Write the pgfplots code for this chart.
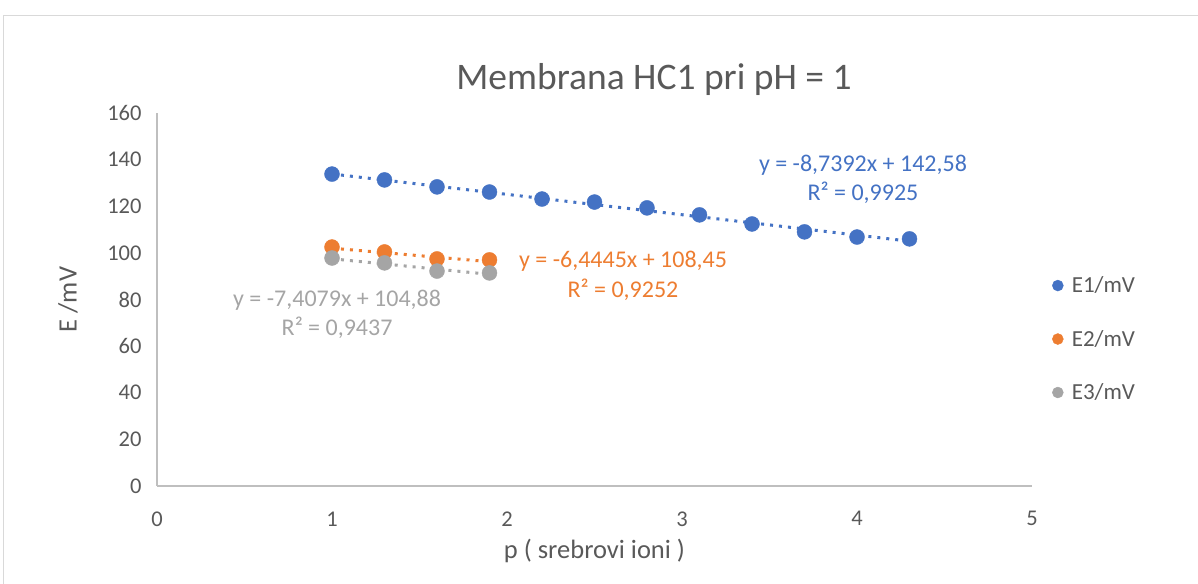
\documentclass[border=0pt]{standalone}
\usepackage{pgfplots}
\pgfplotsset{compat=1.18}
\usepackage{fontspec}
\setmainfont{Carlito}
\definecolor{cblue}{HTML}{4472C4}
\definecolor{corange}{HTML}{ED7D31}
\definecolor{cgray}{HTML}{A5A5A5}
\definecolor{ctext}{HTML}{595959}
\definecolor{caxis}{HTML}{BFBFBF}
\definecolor{cframe}{HTML}{D9D9D9}
\begin{document}
\begin{tikzpicture}[x=1pt,y=1pt]
\useasboundingbox (0pt,0pt) rectangle (1198pt,583pt);
\draw[cframe, line width=1.3pt] (3.5pt,-10pt) -- (3.5pt,567.5pt) -- (1210pt,567.5pt);
\node[text=ctext, font=\fontsize{37.5}{42}\selectfont, anchor=center] at (654pt,503pt) {Membrana HC1 pri pH = 1};
\begin{axis}[
  at={(157pt,97pt)}, anchor=south west,
  scale only axis, width=875pt, height=373pt,
  xmin=0, xmax=5, ymin=0, ymax=160,
  xtick={0,1,2,3,4,5}, ytick={0,20,...,160},
  axis x line*=bottom, axis y line*=left,
  axis line style={caxis, line width=1.3pt, -},
  major tick length=0pt,
  /pgf/number format/assume math mode=true,
  tick label style={text=ctext, font=\fontsize{22.5}{26}\selectfont},
  xticklabel style={yshift=-22pt},
  yticklabel style={xshift=-12pt},
  label style={text=ctext, font=\fontsize{26.5}{30}\selectfont},
  xlabel={p ( srebrovi ioni )},
  ylabel={E /mV},
  xlabel style={at={(axis description cs:0.5,0)}, anchor=center, yshift=-65pt},
  ylabel style={at={(axis description cs:-0.1017,0.5)}, anchor=center},
  legend style={draw=none, fill=none, at={(1.019,0.394)}, anchor=west,
    font=\fontsize{23}{27}\selectfont, text=ctext, row sep=32pt},
  legend cell align=left,
  legend image code/.code={\draw[#1, mark size=5.5pt] plot coordinates {(0pt,0pt)}; \path (-6pt,0pt) (12pt,0pt);},
  clip=false,
]
\addplot[only marks, mark=*, mark size=7.5pt, draw=none, fill=cblue, mark options={draw=cblue, fill=cblue}] coordinates {
(1,133.8) (1.3,131.3) (1.6,128.3) (1.9,126.1) (2.2,123.1) (2.5,121.8)
(2.8,119.3) (3.1,116.3) (3.4,112.4) (3.7,109.0) (4.0,106.8) (4.3,106.0)};
\addlegendentry{E1/mV}
\addplot[only marks, mark=*, mark size=7.5pt, draw=none, fill=corange, mark options={draw=corange, fill=corange}] coordinates {
(1,102.5) (1.3,100.4) (1.6,97.4) (1.9,97.0)};
\addlegendentry{E2/mV}
\addplot[only marks, mark=*, mark size=7.5pt, draw=none, fill=cgray, mark options={draw=cgray, fill=cgray}] coordinates {
(1,97.8) (1.3,95.7) (1.6,92.2) (1.9,91.4)};
\addlegendentry{E3/mV}
\addplot[cblue, line width=3pt, dash pattern=on 3pt off 6pt, forget plot] coordinates {(1,133.84) (4.3,105.00)};
\addplot[corange, line width=3pt, dash pattern=on 3pt off 6pt, forget plot] coordinates {(1,102.01) (1.9,96.21)};
\addplot[cgray, line width=3pt, dash pattern=on 3pt off 6pt, forget plot] coordinates {(1,97.47) (1.9,90.80)};
\node[text=cblue, align=center, font=\fontsize{24}{29.5}\selectfont] at (axis cs:4.034,131.5) {y = -8,7392x + 142,58\\R² = 0,9925};
\node[text=corange, align=center, font=\fontsize{24}{29.5}\selectfont] at (axis cs:2.663,90.1) {y = -6,4445x + 108,45\\R² = 0,9252};
\node[text=cgray, align=center, font=\fontsize{24}{29.5}\selectfont] at (axis cs:1.029,73.6) {y = -7,4079x + 104,88\\R² = 0,9437};
\end{axis}
\end{tikzpicture}
\end{document}
